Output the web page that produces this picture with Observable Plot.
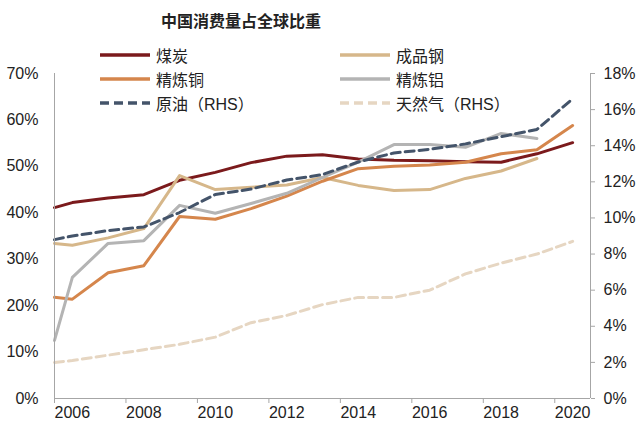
<!DOCTYPE html>
<html><head><meta charset="utf-8">
<script src="https://cdn.jsdelivr.net/npm/d3@7"></script>
<script src="https://cdn.jsdelivr.net/npm/@observablehq/plot@0.6"></script>
<style>
body{margin:0;background:#fff;}
#wrap{position:relative;width:640px;height:437px;font-family:"Liberation Sans",Arial,"Noto Sans CJK SC",sans-serif;color:#222;}
#title{position:absolute;left:0;width:482px;top:8px;text-align:center;font-weight:bold;font-size:16px;font-family:"Noto Sans CJK SC",sans-serif;}
.leg{position:absolute;display:flex;align-items:center;height:22px;font-size:16px;font-family:"Liberation Sans","Noto Sans CJK SC",sans-serif;}
.leg span{margin-left:6px;}
</style></head><body>
<div id="wrap"><div id="chart"></div><div id="title">中国消费量占全球比重</div><div id="legend"></div></div>
<script>
// Years (points sit at mid-year, lines start at the left edge of the axis)
const years = [2006,2007,2008,2009,2010,2011,2012,2013,2014,2015,2016,2017,2018,2019,2020];
const xTickYears = [2006,2008,2010,2012,2014,2016,2018,2020];
const leftTicks = [0,10,20,30,40,50,60,70];
const rightTicks = [0,2,4,6,8,10,12,14,16,18];

// Left-axis series (%), "start" = value at the left edge
const coalStart = 41.1;
const coal   = [42.2,43.2,43.9,47.0,48.7,50.8,52.2,52.5,51.6,51.3,51.2,51.0,50.9,52.7,55.1];
const steelStart = 33.4;
const steel  = [33.0,34.6,36.6,48.0,45.0,45.5,46.0,47.6,45.9,44.8,45.0,47.4,49.0,51.7,null];
const copperStart = 21.8;
const copper = [21.4,27.1,28.6,39.2,38.6,40.9,43.6,46.8,49.5,50.0,50.3,50.9,52.7,53.6,58.8];
const aluStart = 12.5;
const alu    = [26.1,33.4,34.0,41.6,39.9,42.0,44.2,47.6,50.9,54.7,54.7,54.1,57.1,56.0,null];
// Right-axis series (RHS, %)
const oilStart = 8.8;
const oil    = [9.0,9.3,9.5,10.3,11.3,11.6,12.1,12.4,13.1,13.6,13.8,14.1,14.5,14.9,16.6];
const gasStart = 2.0;
const gas    = [2.1,2.4,2.7,3.0,3.4,4.2,4.6,5.2,5.6,5.6,6.0,6.9,7.5,8.0,8.7];

const LMAX = 70, RMAX = 18;
const series = [
  {name:"煤炭", start:coalStart, values:coal, color:"#7B1A1C", dash:null, rhs:false},
  {name:"成品钢", start:steelStart, values:steel, color:"#D6B78A", dash:null, rhs:false},
  {name:"精炼铜", start:copperStart, values:copper, color:"#D5864C", dash:null, rhs:false},
  {name:"精炼铝", start:aluStart, values:alu, color:"#B4B4B4", dash:null, rhs:false},
  {name:"原油（RHS）", start:oilStart, values:oil, color:"#44546A", dash:"9,5", rhs:true},
  {name:"天然气（RHS）", start:gasStart, values:gas, color:"#E6D6C2", dash:"9,5", rhs:true}
];
const conv = (s, v) => s.rhs ? v * LMAX / RMAX : v;
function rowsOf(s){
  const r = [{x: years[0], y: conv(s, s.start)}];
  years.forEach((yr, i) => { if (s.values[i] != null) r.push({x: yr + 0.5, y: conv(s, s.values[i])}); });
  return r;
}
const axisColor = "#A6A6A6";
const plot = Plot.plot({
  width: 640, height: 437,
  marginLeft: 54, marginRight: 50, marginTop: 73, marginBottom: 39,
  x: {domain: [2006, 2021]},
  y: {domain: [0, LMAX]},
  style: {fontFamily: "'Liberation Sans', Arial, sans-serif", fontSize: "16px", color: "#222", background: "#fff"},
  marks: [
    ...series.map(s => Plot.line(rowsOf(s), {x: "x", y: "y", stroke: s.color, strokeWidth: 3, strokeDasharray: s.dash, strokeLinejoin: "round"})),
    Plot.ruleX([2006], {stroke: axisColor}),
    Plot.ruleX([2021], {stroke: axisColor}),
    Plot.ruleY([0], {stroke: axisColor}),
    Plot.axisY({anchor: "left", label: null, ticks: leftTicks, tickSize: 0, tickPadding: 16, tickFormat: d => d + "%", fontSize: 16}),
    Plot.axisY({anchor: "right", label: null, ticks: rightTicks.map(v => v * LMAX / RMAX), tickSize: 4, tickPadding: 9, stroke: axisColor, tickFormat: d => Math.round(d * RMAX / LMAX) + "%", fontSize: 16}),
    Plot.axisX({label: null, ticks: xTickYears, tickSize: 5, stroke: axisColor, tickFormat: () => ""}),
    Plot.axisX({label: null, ticks: xTickYears.map(y => y + 0.5), tickSize: 0, tickPadding: 8, tickFormat: d => String(Math.floor(d)), fontSize: 16})
  ]
});
document.getElementById("chart").appendChild(plot);

// Legend
const legendPos = [[100,44],[340,44],[100,68],[340,68],[100,92],[340,92]];
const legend = document.getElementById("legend");
series.forEach((s, i) => {
  const d = document.createElement("div");
  d.className = "leg";
  d.style.left = legendPos[i][0] + "px";
  d.style.top = legendPos[i][1] + "px";
  d.innerHTML = `<svg width="50" height="6"><line x1="0" x2="50" y1="3" y2="3" stroke="${s.color}" stroke-width="3.5" ${s.dash ? `stroke-dasharray="${s.dash}"` : ""}/></svg><span>${s.name}</span>`;
  legend.appendChild(d);
});
</script>
</body></html>
